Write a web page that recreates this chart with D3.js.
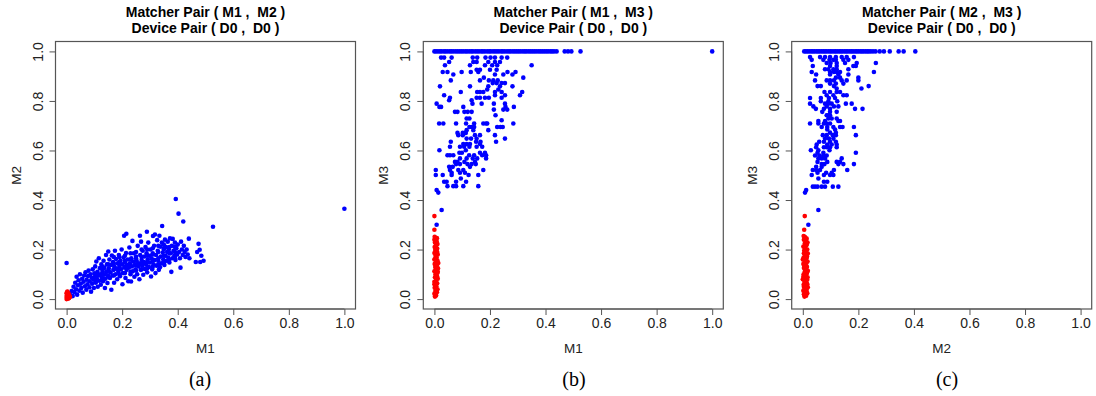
<!DOCTYPE html>
<html><head><meta charset="utf-8">
<script src="https://cdn.jsdelivr.net/npm/d3@7"></script>
<style>body{margin:0;background:#fff}</style>
</head><body><svg id="chart" width="1096" height="396"></svg>
<script>
// ---------- data ----------
const tickValues = [0, 0.2, 0.4, 0.6, 0.8, 1.0];

// Panel (a): M1 vs M2
const aBlue = [
[0.012,0.018],[0.018,0.032],[0.022,0.012],[0.025,0.05],[0.028,0.028],[0.031,0.066],[0.034,0.04],[0.036,0.09],[0.038,0.018],[0.041,0.056],[0.043,0.076],[0.046,0.034],[0.048,0.1],[0.051,0.062],[0.053,0.045],[0.056,0.082],[0.058,0.026],[0.061,0.07],[0.063,0.095],[0.066,0.052],[0.068,0.108],
[0.071,0.038],[0.072,0.078],[0.075,0.06],[0.077,0.093],[0.079,0.115],[0.082,0.048],[0.083,0.072],[0.086,0.1],[0.088,0.03],[0.09,0.086],[0.092,0.062],[0.094,0.12],[0.096,0.078],[0.098,0.045],[0.1,0.104],[0.102,0.09],[0.103,0.132],[0.105,0.066],[0.107,0.152],[0.109,0.082],[0.111,0.11],[0.112,0.05],[0.114,0.095],[0.116,0.165],[0.118,0.074],[0.12,0.125],
[0.121,0.1],[0.123,0.058],[0.125,0.14],[0.127,0.088],[0.129,0.113],[0.131,0.072],[0.133,0.155],[0.135,0.098],[0.136,0.126],[0.138,0.045],[0.14,0.082],[0.142,0.178],[0.143,0.11],[0.145,0.14],[0.147,0.065],[0.149,0.096],[0.15,0.192],[0.152,0.124],[0.154,0.16],[0.156,0.085],[0.158,0.108],[0.16,0.138],[0.161,0.038],[0.163,0.176],[0.165,0.095],[0.167,0.15],[0.169,0.118],
[0.171,0.066],[0.172,0.132],[0.174,0.195],[0.176,0.1],[0.178,0.162],[0.18,0.123],[0.182,0.08],[0.184,0.145],[0.186,0.11],[0.188,0.178],[0.19,0.135],[0.192,0.092],[0.194,0.155],[0.196,0.12],[0.198,0.2],[0.2,0.14],[0.201,0.06],[0.203,0.105],[0.205,0.168],[0.207,0.256],[0.208,0.128],[0.21,0.148],[0.212,0.085],[0.214,0.186],[0.215,0.264],[0.216,0.118],[0.218,0.138],[0.22,0.16],
[0.222,0.072],[0.224,0.127],[0.226,0.208],[0.228,0.145],[0.23,0.1],[0.232,0.071],[0.233,0.165],[0.235,0.132],[0.237,0.235],[0.238,0.112],[0.24,0.152],[0.242,0.185],[0.244,0.09],[0.246,0.138],[0.248,0.12],[0.25,0.172],[0.252,0.155],[0.254,0.1],[0.256,0.215],[0.258,0.132],[0.26,0.145],[0.262,0.08],[0.264,0.256],[0.265,0.178],[0.267,0.118],[0.268,0.232],[0.27,0.158],
[0.272,0.135],[0.274,0.195],[0.276,0.098],[0.278,0.15],[0.28,0.172],[0.282,0.122],[0.284,0.21],[0.286,0.14],[0.288,0.185],[0.289,0.272],[0.29,0.108],[0.292,0.16],[0.294,0.228],[0.296,0.13],[0.298,0.175],[0.3,0.148],[0.302,0.2],[0.304,0.091],[0.306,0.165],[0.308,0.12],[0.31,0.185],[0.311,0.255],[0.313,0.14],[0.315,0.215],[0.317,0.158],[0.318,0.261],[0.32,0.105],
[0.322,0.178],[0.324,0.135],[0.326,0.238],[0.328,0.195],[0.33,0.155],[0.332,0.118],[0.334,0.256],[0.336,0.129],[0.337,0.212],[0.339,0.172],[0.341,0.145],[0.343,0.228],[0.344,0.295],[0.346,0.188],[0.348,0.16],[0.35,0.205],[0.352,0.138],[0.354,0.24],[0.356,0.175],[0.358,0.21],[0.36,0.155],[0.362,0.19],[0.364,0.232],[0.366,0.168],[0.368,0.2],
[0.37,0.148],[0.372,0.245],[0.375,0.185],[0.377,0.11],[0.379,0.215],[0.381,0.165],[0.382,0.243],[0.385,0.195],[0.388,0.175],[0.39,0.228],[0.392,0.158],[0.393,0.404],[0.395,0.205],[0.398,0.18],[0.4,0.22],[0.403,0.345],[0.405,0.19],[0.408,0.165],[0.41,0.127],[0.412,0.232],[0.415,0.2],[0.418,0.178],[0.42,0.313],[0.422,0.215],[0.425,0.19],[0.428,0.17],[0.432,0.2],[0.436,0.18],[0.44,0.244],[0.442,0.165],
[0.465,0.15],[0.47,0.19],[0.475,0.223],[0.479,0.199],[0.481,0.15],[0.485,0.175],[0.493,0.155],[0.527,0.292],[1.0,0.365],[0.0,0.146],
[0.11,0.075],[0.11,0.1],[0.13,0.08],[0.13,0.105],[0.13,0.13],[0.15,0.09],[0.15,0.115],[0.15,0.14],[0.17,0.095],[0.17,0.12],[0.17,0.145],[0.17,0.17],
[0.19,0.1],[0.19,0.125],[0.19,0.15],[0.19,0.17],[0.21,0.105],[0.21,0.13],[0.21,0.155],[0.21,0.175],[0.23,0.11],[0.23,0.135],[0.23,0.16],[0.23,0.185],
[0.25,0.115],[0.25,0.14],[0.25,0.165],[0.25,0.19],[0.27,0.12],[0.27,0.145],[0.27,0.17],[0.27,0.2],[0.29,0.125],[0.29,0.15],[0.29,0.175],[0.29,0.2],
[0.31,0.13],[0.31,0.155],[0.31,0.18],[0.31,0.205],[0.33,0.14],[0.33,0.165],[0.33,0.19],[0.33,0.215],[0.35,0.15],[0.35,0.175],[0.35,0.2],[0.35,0.22],
[0.37,0.16],[0.37,0.185],[0.37,0.21],[0.39,0.17],[0.39,0.19],[0.39,0.21]
];
const aRed = [
[0,0],[0.003,0.005],[0.006,0.01],[0,0.012],[0.009,0.004],[0.004,0.018],[0,0.024],[0.007,0.022],
[0.002,0.028],[0.011,0.012],[0.005,0.002],[0.008,0.016],[0.001,0.006],[0.012,0.008],[0.003,0.03]
];

// Panel (b): M1 vs M3
const bTopM1 = [0,0.006,0.013,0.02,0.026,0.034,0.04,0.047,0.055,0.061,0.068,0.076,0.083,0.09,0.097,0.104,0.112,
0.118,0.126,0.133,0.139,0.147,0.154,0.161,0.169,0.175,0.182,0.19,0.197,0.203,0.211,0.218,0.225,0.232,0.24,0.246,
0.253,0.261,0.268,0.274,0.282,0.289,0.296,0.303,0.31,0.318,0.325,0.331,0.339,0.346,0.353,0.36,0.367,0.375,0.382,
0.389,0.396,0.403,0.41,0.418,0.424,0.431,0.44,0.469,0.481,0.493,0.526,1.0];
const bBlue = [
[0.024,0.975],[0.035,0.975],[0.062,0.975],[0.138,0.975],[0.154,0.975],[0.184,0.975],[0.202,0.975],[0.218,0.975],[0.242,0.975],[0.262,0.975],
[0.053,0.957],[0.14,0.957],[0.152,0.957],[0.194,0.957],[0.218,0.957],[0.236,0.957],
[0.038,0.944],[0.128,0.944],[0.182,0.944],[0.208,0.944],[0.226,0.944],[0.35,0.944],
[0.152,0.926],[0.164,0.926],[0.2,0.926],[0.224,0.926],
[0.03,0.917],[0.047,0.917],[0.098,0.917],[0.131,0.917],[0.158,0.917],[0.263,0.917],[0.292,0.917],
[0.068,0.907],[0.218,0.907],[0.248,0.907],[0.281,0.907],[0.178,0.894],[0.32,0.894],
[0.059,0.883],[0.164,0.883],[0.196,0.883],[0.212,0.883],[0.228,0.883],
[0.21,0.872],[0.224,0.872],[0.242,0.872],[0.254,0.872],
[0.02,0.859],[0.128,0.859],[0.194,0.859],[0.236,0.859],[0.281,0.859],[0.19,0.846],[0.23,0.846],
[0.095,0.836],[0.154,0.836],[0.164,0.836],[0.176,0.836],[0.218,0.836],[0.242,0.836],[0.316,0.836],
[0.035,0.823],[0.218,0.823],[0.254,0.823],[0.308,0.823],
[0.056,0.813],[0.152,0.813],[0.164,0.813],[0.182,0.813],[0.196,0.813],[0.242,0.813],[0.053,0.803],[0.134,0.803],
[0.008,0.789],[0.137,0.789],[0.17,0.789],[0.214,0.789],[0.254,0.789],
[0.018,0.776],[0.024,0.776],[0.104,0.776],[0.256,0.776],[0.286,0.776],[0.214,0.765],[0.248,0.765],[0.262,0.765],
[0.074,0.756],[0.083,0.756],[0.108,0.756],[0.12,0.756],[0.134,0.756],[0.22,0.742],[0.116,0.729],[0.126,0.729],[0.242,0.722],
[0.017,0.709],[0.032,0.709],[0.078,0.709],[0.114,0.709],[0.143,0.709],[0.176,0.709],[0.186,0.709],[0.19,0.709],[0.284,0.709],
[0.126,0.695],[0.134,0.695],[0.143,0.695],[0.226,0.695],[0.238,0.695],[0.246,0.695],[0.116,0.682],[0.14,0.682],[0.194,0.682],
[0.083,0.671],[0.102,0.671],[0.113,0.671],[0.086,0.662],[0.102,0.662],[0.146,0.662],[0.164,0.662],[0.218,0.662],
[0.116,0.648],[0.132,0.648],[0.152,0.648],[0.254,0.648],[0.059,0.635],[0.15,0.635],[0.166,0.635],[0.222,0.635],
[0.104,0.626],[0.116,0.626],[0.128,0.626],[0.164,0.626],
[0.056,0.615],[0.092,0.615],[0.107,0.615],[0.126,0.615],[0.152,0.615],[0.172,0.615],[0.018,0.601],[0.113,0.601],
[0.09,0.591],[0.099,0.591],[0.164,0.591],[0.182,0.591],
[0.047,0.581],[0.056,0.581],[0.068,0.581],[0.125,0.581],[0.143,0.581],[0.172,0.581],[0.186,0.581],
[0.092,0.568],[0.116,0.568],[0.138,0.568],[0.154,0.568],[0.186,0.568],
[0.074,0.554],[0.083,0.554],[0.108,0.554],[0.146,0.554],[0.078,0.545],[0.092,0.545],[0.119,0.545],[0.134,0.545],[0.149,0.545],
[0.053,0.534],[0.066,0.534],[0.128,0.534],[0.005,0.521],[0.056,0.521],[0.086,0.521],[0.104,0.521],[0.176,0.521],
[0.062,0.51],[0.092,0.51],[0.11,0.51],[0.005,0.501],[0.03,0.501],[0.062,0.501],[0.123,0.501],[0.158,0.501],[0.095,0.487],
[0.035,0.474],[0.044,0.474],[0.078,0.474],[0.114,0.474],
[0.047,0.456],[0.068,0.456],[0.078,0.456],[0.104,0.456],[0.158,0.456],
[0.008,0.44],[0.014,0.43],[0.026,0.36],[0.008,0.30]
];
const bRed = [
[0.002,0.01],[0.006,0.015],[0,0.022],[0.009,0.028],[0.004,0.034],[0.011,0.04],[0.001,0.046],[0.007,0.052],
[0.003,0.058],[0.01,0.064],[0,0.07],[0.006,0.076],[0.012,0.082],[0.002,0.088],[0.008,0.094],[0.004,0.1],
[0.011,0.106],[0,0.112],[0.007,0.118],[0.013,0.124],[0.003,0.13],[0.009,0.136],[0.001,0.142],[0.014,0.146],
[0.006,0.15],[0.011,0.156],[0.002,0.162],[0.008,0.168],[0.004,0.174],[0.012,0.18],[0,0.186],[0.007,0.192],
[0.003,0.198],[0.01,0.204],[0.001,0.21],[0.006,0.216],[0.011,0.222],[0.002,0.228],[0.008,0.234],[0.004,0.24],
[0.009,0.246],[0.001,0.252],[0.005,0.03],[0,0.06],[0.01,0.09],[0.005,0.12],[0,0.16],[0.01,0.19],[0.005,0.225],
[0,0.24],[0.012,0.11],[0.008,0.145],[0,0.28],[0,0.335]
];

// Panel (c): M2 vs M3
const cTopM2 = [0.005,0.011,0.017,0.023,0.03,0.036,0.042,0.049,0.055,0.061,0.068,0.074,0.08,0.086,0.093,0.099,0.105,
0.112,0.118,0.124,0.131,0.137,0.143,0.15,0.156,0.162,0.169,0.175,0.181,0.188,0.194,0.2,0.207,0.213,0.219,0.226,
0.232,0.238,0.245,0.253,0.262,0.277,0.292,0.313,0.345,0.363,0.405];
const cBlue = [
[0.026,0.977],[0.062,0.977],[0.08,0.977],[0.098,0.977],[0.119,0.977],[0.14,0.977],[0.158,0.977],[0.184,0.977],
[0.032,0.966],[0.074,0.966],[0.096,0.966],[0.11,0.966],[0.119,0.966],[0.146,0.966],[0.164,0.966],
[0.086,0.953],[0.1,0.953],[0.122,0.953],[0.152,0.953],[0.194,0.953],[0.263,0.953],
[0.036,0.941],[0.098,0.941],[0.122,0.941],[0.182,0.941],[0.191,0.941],
[0.08,0.928],[0.092,0.928],[0.11,0.928],[0.122,0.928],[0.164,0.928],
[0.032,0.917],[0.098,0.917],[0.112,0.917],[0.122,0.917],[0.134,0.917],[0.256,0.917],
[0.048,0.907],[0.098,0.907],[0.128,0.907],[0.164,0.907],[0.119,0.894],[0.134,0.894],[0.2,0.894],
[0.044,0.883],[0.086,0.883],[0.098,0.883],[0.112,0.883],[0.14,0.883],[0.158,0.883],[0.2,0.883],
[0.098,0.87],[0.119,0.87],[0.146,0.87],[0.053,0.86],[0.065,0.86],[0.112,0.86],[0.237,0.86],[0.122,0.85],[0.211,0.85],
[0.078,0.836],[0.098,0.836],[0.122,0.836],[0.134,0.836],[0.086,0.823],[0.11,0.823],[0.146,0.823],[0.158,0.823],
[0.026,0.812],[0.065,0.812],[0.094,0.812],[0.116,0.812],[0.065,0.799],[0.092,0.799],[0.124,0.799],
[0.026,0.789],[0.08,0.789],[0.092,0.789],[0.104,0.789],[0.155,0.789],[0.176,0.789],
[0.038,0.778],[0.086,0.778],[0.112,0.778],[0.128,0.778],[0.047,0.768],[0.076,0.768],[0.098,0.768],[0.188,0.768],[0.215,0.768],
[0.07,0.756],[0.098,0.756],[0.122,0.756],[0.086,0.742],[0.092,0.742],[0.098,0.742],[0.092,0.729],[0.104,0.729],[0.122,0.729],
[0.056,0.719],[0.08,0.719],[0.128,0.719],[0.134,0.719],[0.026,0.709],[0.056,0.709],[0.076,0.709],[0.086,0.709],[0.098,0.709],
[0.068,0.695],[0.088,0.695],[0.11,0.695],[0.134,0.695],[0.143,0.695],[0.184,0.695],[0.088,0.685],[0.116,0.685],
[0.098,0.672],[0.119,0.672],[0.072,0.662],[0.086,0.662],[0.108,0.662],[0.119,0.662],[0.191,0.662],
[0.08,0.648],[0.094,0.648],[0.11,0.648],[0.059,0.635],[0.076,0.635],[0.098,0.635],[0.119,0.635],
[0.05,0.624],[0.088,0.624],[0.104,0.624],[0.122,0.624],[0.048,0.613],[0.076,0.613],[0.086,0.613],[0.098,0.613],[0.122,0.613],
[0.029,0.601],[0.056,0.601],[0.096,0.601],[0.053,0.591],[0.074,0.591],[0.191,0.591],
[0.044,0.58],[0.06,0.58],[0.074,0.58],[0.086,0.58],[0.056,0.568],[0.068,0.568],[0.08,0.568],[0.14,0.568],
[0.053,0.554],[0.088,0.554],[0.122,0.554],[0.134,0.554],[0.068,0.545],[0.078,0.545],[0.128,0.545],[0.146,0.545],[0.184,0.545],
[0.048,0.534],[0.068,0.534],[0.036,0.521],[0.048,0.521],[0.062,0.521],[0.112,0.521],[0.16,0.521],
[0.053,0.51],[0.084,0.51],[0.104,0.51],[0.032,0.501],[0.076,0.501],[0.098,0.501],[0.11,0.501],[0.056,0.487],
[0.076,0.474],[0.088,0.474],[0.036,0.454],[0.044,0.454],[0.053,0.454],[0.068,0.454],[0.08,0.454],[0.108,0.454],[0.128,0.454],
[0.012,0.44],[0.008,0.43],[0.056,0.36],[0.02,0.30]
];
const cRed = [
[0.006,0.01],[0.012,0.014],[0.004,0.02],[0.016,0.024],[0.009,0.028],[0.002,0.034],[0.014,0.038],[0.007,0.044],
[0.018,0.048],[0.011,0.052],[0.003,0.058],[0.015,0.062],[0.008,0.068],[0,0.08],[0.012,0.074],[0.005,0.084],
[0.017,0.088],[0.01,0.094],[0.003,0.1],[0.014,0.104],[0.007,0.11],[0.018,0.114],[0.011,0.12],[0.004,0.126],
[0.015,0.13],[0.008,0.136],[0.002,0.142],[0.013,0.146],[0.017,0.152],[0.006,0.156],[0.01,0.162],[0.003,0.168],
[0.015,0.172],[0.008,0.178],[0.018,0.184],[0.012,0.19],[0.005,0.196],[0.016,0.2],[0.009,0.206],[0.002,0.212],
[0.013,0.218],[0.007,0.224],[0.017,0.228],[0.011,0.234],[0.004,0.24],[0.014,0.244],[0.008,0.25],[0.003,0.255],
[0.01,0.018],[0.004,0.05],[0.016,0.078],[0.009,0.14],[0.004,0.185],[0.016,0.11],[0.011,0.03],[0.002,0.09],
[0.006,0.13],[0.013,0.165],[0.008,0.205],[0.014,0.22],[0,0.16],[0.016,0.06],[0.01,0.245],[0.006,0.07],[0.012,0.1],
[0.005,0.28],[0.007,0.335]
];

const titles1 = ["Matcher Pair ( M1 ,  M2 )", "Matcher Pair ( M1 ,  M3 )", "Matcher Pair ( M2 ,  M3 )"];
const titles2 = ["Device Pair ( D0 ,  D0 )", "Device Pair ( D0 ,  D0 )", "Device Pair ( D0 ,  D0 )"];
const xLabels = ["M1", "M1", "M2"];
const yLabels = ["M2", "M3", "M3"];
const captions = ["(a)", "(b)", "(c)"];

// ---------- drawing ----------
const svg = d3.select("#chart");
const panelLefts = [55.5, 423.3, 791.7];
const captionX = [200, 574, 947];
const W = 300, plotTop = 41.5, plotBottom = 309;
const blueSets = [aBlue, bBlue.concat(bTopM1.map(v => [v, 1])), cBlue.concat(cTopM2.map(v => [v, 1]))];
const redSets = [aRed, bRed, cRed];
const fmt = d3.format(".1f");
const boxColor = "#555";
const sans = "Liberation Sans, Arial, sans-serif";

panelLefts.forEach((L, i) => {
  const x = d3.scaleLinear().domain([-0.04, 1.04]).range([L, L + W]);
  const y = d3.scaleLinear().domain([-0.04, 1.04]).range([plotBottom, plotTop]);
  const g = svg.append("g");
  const cx = L + W / 2;

  g.append("g").selectAll("circle").data(blueSets[i]).join("circle")
    .attr("cx", d => x(d[0])).attr("cy", d => y(d[1])).attr("r", 2.3).attr("fill", "#0000FF");
  g.append("g").selectAll("circle").data(redSets[i]).join("circle")
    .attr("cx", d => x(d[0])).attr("cy", d => y(d[1])).attr("r", 2.3).attr("fill", "#FF0000");

  g.append("rect").attr("x", L).attr("y", plotTop).attr("width", W).attr("height", plotBottom - plotTop)
    .attr("fill", "none").attr("stroke", boxColor).attr("stroke-width", 1.2);

  const xa = g.append("g").attr("transform", `translate(0,${plotBottom})`)
    .call(d3.axisBottom(x).tickValues(tickValues).tickFormat(fmt).tickSize(6).tickSizeOuter(0).tickPadding(3));
  xa.select(".domain").attr("d", `M${x(0)},0H${x(1)}`).attr("stroke", boxColor);
  xa.selectAll(".tick line").attr("stroke", boxColor);
  xa.selectAll(".tick text").attr("font-family", sans).attr("font-size", 14).attr("fill", "#222");

  const ya = g.append("g").attr("transform", `translate(${L},0)`)
    .call(d3.axisLeft(y).tickValues(tickValues).tickFormat(fmt).tickSize(6).tickSizeOuter(0));
  ya.select(".domain").attr("d", `M0,${y(0)}V${y(1)}`).attr("stroke", boxColor);
  ya.selectAll(".tick line").attr("stroke", boxColor);
  ya.selectAll(".tick text")
    .attr("font-family", sans).attr("font-size", 14).attr("fill", "#222")
    .attr("x", 0).attr("dy", null).attr("text-anchor", "middle")
    .attr("transform", `translate(-13,0) rotate(-90)`);

  g.append("text").attr("x", cx).attr("y", 17).attr("text-anchor", "middle")
    .attr("font-family", sans).attr("font-weight", "bold").attr("font-size", 14)
    .style("white-space", "pre").text(titles1[i]);
  g.append("text").attr("x", cx).attr("y", 33).attr("text-anchor", "middle")
    .attr("font-family", sans).attr("font-weight", "bold").attr("font-size", 14)
    .style("white-space", "pre").text(titles2[i]);

  g.append("text").attr("x", cx).attr("y", 353).attr("text-anchor", "middle")
    .attr("font-family", sans).attr("font-size", 13.5).attr("fill", "#222").text(xLabels[i]);
  g.append("text").attr("transform", `translate(${L - 35},${(plotTop + plotBottom) / 2}) rotate(-90)`).attr("text-anchor", "middle")
    .attr("font-family", sans).attr("font-size", 13.5).attr("fill", "#222").text(yLabels[i]);

  g.append("text").attr("x", captionX[i]).attr("y", 386).attr("text-anchor", "middle")
    .attr("font-family", "Liberation Serif, Times New Roman, serif").attr("font-size", 20).attr("fill", "#000").text(captions[i]);
});
</script>
</body></html>
